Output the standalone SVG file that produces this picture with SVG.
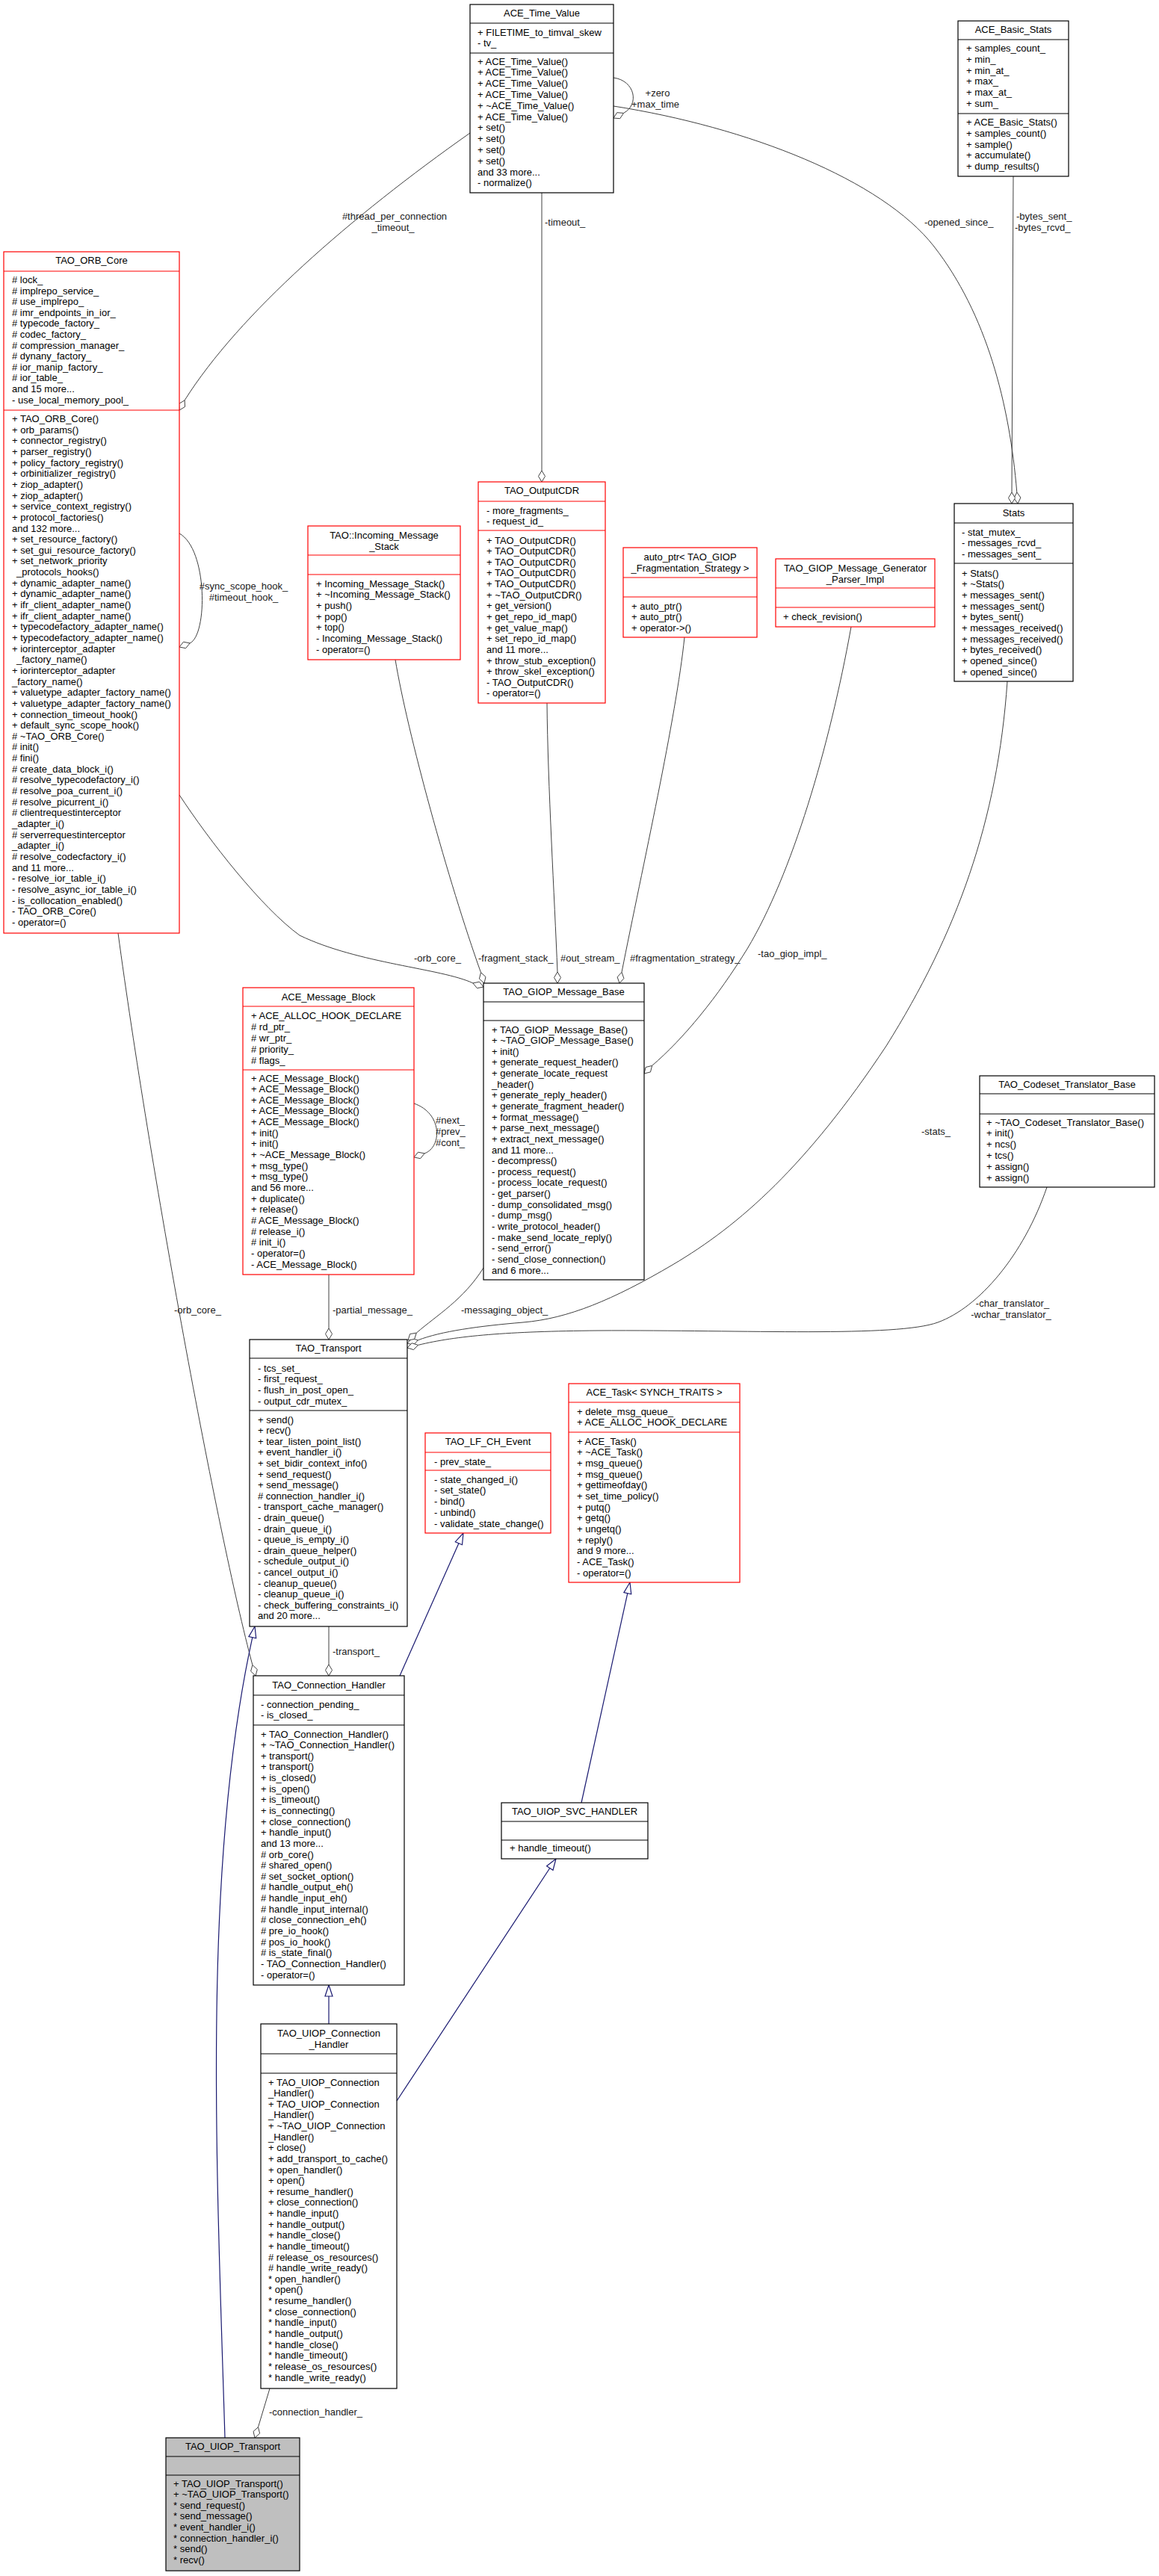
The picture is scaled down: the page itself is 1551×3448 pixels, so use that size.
<svg xmlns="http://www.w3.org/2000/svg" width="1551" height="3448" viewBox="0 0 1551 3448">
<style>
text{font-family:"Liberation Sans",Arial,Helvetica,sans-serif;font-size:13px;fill:#000}
.mid{text-anchor:middle}
.lbl{fill:#202020}
.box{fill:#fff;stroke:#000;stroke-width:1.2}
.red{fill:#fff;stroke:#ff0000;stroke-width:1.2}
.gry{fill:#bfbfbf;stroke:#000;stroke-width:1.2}
.dk{stroke:#000;stroke-width:1.2}
.rd{stroke:#ff0000;stroke-width:1.2}
.e{fill:none;stroke:#404040;stroke-width:1}
.dia{fill:#fff;stroke:#404040;stroke-width:1}
.inh{fill:none;stroke:#191970;stroke-width:1.2}
.tri{fill:#fff;stroke:#191970;stroke-width:1.2}
</style>
<rect width="1551" height="3448" fill="#fff"/>

<g id="connectors">
<!-- thread_per_connection_timeout_ -->
<path class="e" d="M629,178 C470,290 320,420 247.1,535.8"/>
<polygon class="dia" points="240,549 247.5,544.5 247.1,535.8 239.6,540.3"/>
<text class="lbl mid" x="528" y="293.5">#thread_per_connection</text>
<text class="lbl mid" x="526" y="308.5">_timeout_</text>
<!-- timeout_ -->
<path class="e" d="M725,258 L725,630"/>
<polygon class="dia" points="725,645 729.5,637.5 725,630 720.5,637.5"/>
<text class="lbl" x="729" y="301.5">-timeout_</text>
<!-- zero / max_time self loop -->
<path class="e" d="M821,104 C850,108 856,140 834.5,151.4"/>
<polygon class="dia" points="821,158 829.7,158.7 834.5,151.4 825.7,150.7"/>
<text class="lbl mid" x="880" y="128.5">+zero</text>
<text class="lbl mid" x="877" y="143.5">+max_time</text>
<!-- opened_since_ -->
<path class="e" d="M821,142 C1000,170 1180,240 1250,330 C1320,420 1351,540 1360.8,659"/>
<polygon class="dia" points="1362,674 1365.9,666.1 1360.8,659 1356.9,666.9"/>
<text class="lbl" x="1237" y="301.5">-opened_since_</text>
<!-- bytes_sent_ / bytes_rcvd_ -->
<path class="e" d="M1356,236 L1354,659"/>
<polygon class="dia" points="1354,674 1358.5,666.5 1354,659 1349.5,666.5"/>
<text class="lbl" x="1360" y="293.5">-bytes_sent_</text>
<text class="lbl" x="1358" y="308.5">-bytes_rcvd_</text>
<!-- sync_scope_hook_ self loop -->
<path class="e" d="M240,714 C278,735 278,850 254.1,860.9"/>
<polygon class="dia" points="240,866 248.6,867.7 254.1,860.9 245.5,859.2"/>
<text class="lbl mid" x="326" y="788.5">#sync_scope_hook_</text>
<text class="lbl mid" x="326" y="803.5">#timeout_hook_</text>
<!-- orb_core_ to GIOP -->
<path class="e" d="M240,1064 C280,1125 350,1215 401,1252 C480,1290 590,1296 632.9,1315.9"/>
<polygon class="dia" points="647,1321 641.5,1314.2 632.9,1315.9 638.4,1322.7"/>
<text class="lbl" x="554" y="1286.5">-orb_core_</text>
<!-- fragment_stack_ -->
<path class="e" d="M529,883 C545,980 600,1180 643.5,1301.7"/>
<polygon class="dia" points="648,1316 650,1307.5 643.5,1301.7 641.4,1310.2"/>
<text class="lbl" x="640" y="1286.5">-fragment_stack_</text>
<!-- out_stream_ -->
<path class="e" d="M732,941 C733,1050 742,1200 746,1301"/>
<polygon class="dia" points="746,1316 750.5,1308.5 746,1301 741.5,1308.5"/>
<text class="lbl" x="750" y="1286.5">#out_stream_</text>
<!-- fragmentation_strategy_ -->
<path class="e" d="M916,853 C905,960 860,1160 832,1301.3"/>
<polygon class="dia" points="829,1316 834.9,1309.6 832,1301.3 826.1,1307.8"/>
<text class="lbl" x="843" y="1286.5">#fragmentation_strategy_</text>
<!-- tao_giop_impl_ -->
<path class="e" d="M1139,839 C1110,1000 1060,1170 1000,1270 C960,1335 915,1390 872.6,1426.4"/>
<polygon class="dia" points="862,1437 870.5,1434.9 872.6,1426.4 864.1,1428.5"/>
<text class="lbl" x="1014" y="1280.5">-tao_giop_impl_</text>
<!-- stats_ -->
<path class="e" d="M1348,912 C1335,1100 1280,1250 1186,1400 C1080,1560 990,1640 900,1693 C820,1740 760,1765 700,1770 C640,1775 590,1782 559.4,1793.8"/>
<polygon class="dia" points="545,1798 553.5,1800.2 559.4,1793.8 550.9,1791.6"/>
<text class="lbl" x="1233" y="1518.5">-stats_</text>
<!-- char/wchar translator -->
<path class="e" d="M1401,1589 C1370,1680 1310,1750 1255,1770 C1200,1790 1000,1780 800,1781 C680,1782 610,1788 559.6,1800.4"/>
<polygon class="dia" points="545,1804 553.4,1806.6 559.6,1800.4 551.2,1797.8"/>
<text class="lbl mid" x="1355" y="1748.5">-char_translator_</text>
<text class="lbl mid" x="1353" y="1763.5">-wchar_translator_</text>
<!-- messaging_object_ -->
<path class="e" d="M647,1697 C620,1740 585,1760 557.3,1784.1"/>
<polygon class="dia" points="546,1794 554.6,1792.4 557.3,1784.1 548.6,1785.6"/>
<text class="lbl" x="617" y="1757.5">-messaging_object_</text>
<!-- partial_message_ -->
<path class="e" d="M440,1706 L440,1778"/>
<polygon class="dia" points="440,1793 444.5,1785.5 440,1778 435.5,1785.5"/>
<text class="lbl" x="445" y="1757.5">-partial_message_</text>
<!-- next/prev/cont self loop -->
<path class="e" d="M554,1477 C592,1490 592,1535 568.1,1543.9"/>
<polygon class="dia" points="554,1549 562.6,1550.7 568.1,1543.9 559.5,1542.2"/>
<text class="lbl" x="583" y="1503.5">#next_</text>
<text class="lbl" x="583" y="1518.5">#prev_</text>
<text class="lbl" x="583" y="1533.5">#cont_</text>
<!-- orb_core_ to Connection_Handler -->
<path class="e" d="M158,1249 C200,1560 290,2050 337.9,2228.6"/>
<polygon class="dia" points="342,2243 344.3,2234.6 337.9,2228.6 335.6,2237"/>
<text class="lbl" x="233" y="1757.5">-orb_core_</text>
<!-- transport_ -->
<path class="e" d="M440,2177 L440,2228"/>
<polygon class="dia" points="440,2243 444.5,2235.5 440,2228 435.5,2235.5"/>
<text class="lbl" x="445" y="2214.5">-transport_</text>
<!-- connection_handler_ -->
<path class="e" d="M361,3197 L345.5,3248.7"/>
<polygon class="dia" points="341,3263 347.6,3257.2 345.5,3248.7 339,3254.5"/>
<text class="lbl" x="360" y="3232.5">-connection_handler_</text>
<!-- inheritance -->
<path class="inh" d="M535,2243 L613.9,2065.7"/>
<polygon class="tri" points="620,2052 618.5,2067.7 609.3,2063.7"/>
<path class="inh" d="M301,3263 C290,2900 270,2500 337.8,2191.7"/>
<polygon class="tri" points="341,2177 342.7,2192.8 332.9,2190.6"/>
<path class="inh" d="M440,2709 L440,2672"/>
<polygon class="tri" points="440,2657 445,2672 435,2672"/>
<path class="inh" d="M778,2413 L839.8,2132.7"/>
<polygon class="tri" points="843,2118 844.7,2133.8 834.9,2131.6"/>
<path class="inh" d="M531,2812 L735.8,2500.5"/>
<polygon class="tri" points="744,2488 740,2503.2 731.6,2497.8"/>
</g>

<g id="ACE_Time_Value">
<rect class="box" x="629" y="6" width="192" height="252"/>
<line class="dk" x1="629" y1="31" x2="821" y2="31"/>
<line class="dk" x1="629" y1="71" x2="821" y2="71"/>
<text class="mid" x="725" y="22">ACE_Time_Value</text>
<text x="639" y="47.5"><tspan x="639">+ FILETIME_to_timval_skew</tspan><tspan x="639" dy="14.8">- tv_</tspan></text>
<text x="639" y="86.5"><tspan x="639">+ ACE_Time_Value()</tspan><tspan x="639" dy="14.8">+ ACE_Time_Value()</tspan><tspan x="639" dy="14.8">+ ACE_Time_Value()</tspan><tspan x="639" dy="14.8">+ ACE_Time_Value()</tspan><tspan x="639" dy="14.8">+ ~ACE_Time_Value()</tspan><tspan x="639" dy="14.8">+ ACE_Time_Value()</tspan><tspan x="639" dy="14.8">+ set()</tspan><tspan x="639" dy="14.8">+ set()</tspan><tspan x="639" dy="14.8">+ set()</tspan><tspan x="639" dy="14.8">+ set()</tspan><tspan x="639" dy="14.8">and 33 more...</tspan><tspan x="639" dy="14.8">- normalize()</tspan></text>
</g>

<g id="ACE_Basic_Stats">
<rect class="box" x="1282" y="28" width="148" height="208"/>
<line class="dk" x1="1282" y1="53" x2="1430" y2="53"/>
<line class="dk" x1="1282" y1="152" x2="1430" y2="152"/>
<text class="mid" x="1356" y="44">ACE_Basic_Stats</text>
<text x="1293" y="69"><tspan x="1293">+ samples_count_</tspan><tspan x="1293" dy="14.8">+ min_</tspan><tspan x="1293" dy="14.8">+ min_at_</tspan><tspan x="1293" dy="14.8">+ max_</tspan><tspan x="1293" dy="14.8">+ max_at_</tspan><tspan x="1293" dy="14.8">+ sum_</tspan></text>
<text x="1293" y="168"><tspan x="1293">+ ACE_Basic_Stats()</tspan><tspan x="1293" dy="14.75">+ samples_count()</tspan><tspan x="1293" dy="14.75">+ sample()</tspan><tspan x="1293" dy="14.75">+ accumulate()</tspan><tspan x="1293" dy="14.75">+ dump_results()</tspan></text>
</g>

<g id="TAO_ORB_Core">
<rect class="red" x="5" y="337" width="235" height="912"/>
<line class="rd" x1="5" y1="363" x2="240" y2="363"/>
<line class="rd" x1="5" y1="549" x2="240" y2="549"/>
<text class="mid" x="122.5" y="352.5">TAO_ORB_Core</text>
<text x="16" y="379"><tspan x="16"># lock_</tspan><tspan x="16" dy="14.6"># implrepo_service_</tspan><tspan x="16" dy="14.6"># use_implrepo_</tspan><tspan x="16" dy="14.6"># imr_endpoints_in_ior_</tspan><tspan x="16" dy="14.6"># typecode_factory_</tspan><tspan x="16" dy="14.6"># codec_factory_</tspan><tspan x="16" dy="14.6"># compression_manager_</tspan><tspan x="16" dy="14.6"># dynany_factory_</tspan><tspan x="16" dy="14.6"># ior_manip_factory_</tspan><tspan x="16" dy="14.6"># ior_table_</tspan><tspan x="16" dy="14.6">and 15 more...</tspan><tspan x="16" dy="14.6">- use_local_memory_pool_</tspan></text>
<text x="16" y="565"><tspan x="16">+ TAO_ORB_Core()</tspan><tspan x="16" dy="14.65">+ orb_params()</tspan><tspan x="16" dy="14.65">+ connector_registry()</tspan><tspan x="16" dy="14.65">+ parser_registry()</tspan><tspan x="16" dy="14.65">+ policy_factory_registry()</tspan><tspan x="16" dy="14.65">+ orbinitializer_registry()</tspan><tspan x="16" dy="14.65">+ ziop_adapter()</tspan><tspan x="16" dy="14.65">+ ziop_adapter()</tspan><tspan x="16" dy="14.65">+ service_context_registry()</tspan><tspan x="16" dy="14.65">+ protocol_factories()</tspan><tspan x="16" dy="14.65">and 132 more...</tspan><tspan x="16" dy="14.65">+ set_resource_factory()</tspan><tspan x="16" dy="14.65">+ set_gui_resource_factory()</tspan><tspan x="16" dy="14.65">+ set_network_priority</tspan><tspan x="22" dy="14.65">_protocols_hooks()</tspan><tspan x="16" dy="14.65">+ dynamic_adapter_name()</tspan><tspan x="16" dy="14.65">+ dynamic_adapter_name()</tspan><tspan x="16" dy="14.65">+ ifr_client_adapter_name()</tspan><tspan x="16" dy="14.65">+ ifr_client_adapter_name()</tspan><tspan x="16" dy="14.65">+ typecodefactory_adapter_name()</tspan><tspan x="16" dy="14.65">+ typecodefactory_adapter_name()</tspan><tspan x="16" dy="14.65">+ iorinterceptor_adapter</tspan><tspan x="22" dy="14.65">_factory_name()</tspan><tspan x="16" dy="14.65">+ iorinterceptor_adapter</tspan><tspan x="16" dy="14.65">_factory_name()</tspan><tspan x="16" dy="14.65">+ valuetype_adapter_factory_name()</tspan><tspan x="16" dy="14.65">+ valuetype_adapter_factory_name()</tspan><tspan x="16" dy="14.65">+ connection_timeout_hook()</tspan><tspan x="16" dy="14.65">+ default_sync_scope_hook()</tspan><tspan x="16" dy="14.65"># ~TAO_ORB_Core()</tspan><tspan x="16" dy="14.65"># init()</tspan><tspan x="16" dy="14.65"># fini()</tspan><tspan x="16" dy="14.65"># create_data_block_i()</tspan><tspan x="16" dy="14.65"># resolve_typecodefactory_i()</tspan><tspan x="16" dy="14.65"># resolve_poa_current_i()</tspan><tspan x="16" dy="14.65"># resolve_picurrent_i()</tspan><tspan x="16" dy="14.65"># clientrequestinterceptor</tspan><tspan x="16" dy="14.65">_adapter_i()</tspan><tspan x="16" dy="14.65"># serverrequestinterceptor</tspan><tspan x="16" dy="14.65">_adapter_i()</tspan><tspan x="16" dy="14.65"># resolve_codecfactory_i()</tspan><tspan x="16" dy="14.65">and 11 more...</tspan><tspan x="16" dy="14.65">- resolve_ior_table_i()</tspan><tspan x="16" dy="14.65">- resolve_async_ior_table_i()</tspan><tspan x="16" dy="14.65">- is_collocation_enabled()</tspan><tspan x="16" dy="14.65">- TAO_ORB_Core()</tspan><tspan x="16" dy="14.65">- operator=()</tspan></text>
</g>

<g id="TAO_Incoming_Message_Stack">
<rect class="red" x="412" y="704" width="204" height="179"/>
<line class="rd" x1="412" y1="743" x2="616" y2="743"/>
<line class="rd" x1="412" y1="769" x2="616" y2="769"/>
<text class="mid" x="514" y="720.5">TAO::Incoming_Message</text>
<text class="mid" x="514" y="735.5">_Stack</text>
<text x="423" y="785.5"><tspan x="423">+ Incoming_Message_Stack()</tspan><tspan x="423" dy="14.67">+ ~Incoming_Message_Stack()</tspan><tspan x="423" dy="14.67">+ push()</tspan><tspan x="423" dy="14.67">+ pop()</tspan><tspan x="423" dy="14.67">+ top()</tspan><tspan x="423" dy="14.67">- Incoming_Message_Stack()</tspan><tspan x="423" dy="14.67">- operator=()</tspan></text>
</g>

<g id="TAO_OutputCDR">
<rect class="red" x="640" y="645" width="170" height="296"/>
<line class="rd" x1="640" y1="671" x2="810" y2="671"/>
<line class="rd" x1="640" y1="710" x2="810" y2="710"/>
<text class="mid" x="725" y="661">TAO_OutputCDR</text>
<text x="651" y="687.5"><tspan x="651">- more_fragments_</tspan><tspan x="651" dy="14.5">- request_id_</tspan></text>
<text x="651" y="727.5"><tspan x="651">+ TAO_OutputCDR()</tspan><tspan x="651" dy="14.64">+ TAO_OutputCDR()</tspan><tspan x="651" dy="14.64">+ TAO_OutputCDR()</tspan><tspan x="651" dy="14.64">+ TAO_OutputCDR()</tspan><tspan x="651" dy="14.64">+ TAO_OutputCDR()</tspan><tspan x="651" dy="14.64">+ ~TAO_OutputCDR()</tspan><tspan x="651" dy="14.64">+ get_version()</tspan><tspan x="651" dy="14.64">+ get_repo_id_map()</tspan><tspan x="651" dy="14.64">+ get_value_map()</tspan><tspan x="651" dy="14.64">+ set_repo_id_map()</tspan><tspan x="651" dy="14.64">and 11 more...</tspan><tspan x="651" dy="14.64">+ throw_stub_exception()</tspan><tspan x="651" dy="14.64">+ throw_skel_exception()</tspan><tspan x="651" dy="14.64">- TAO_OutputCDR()</tspan><tspan x="651" dy="14.64">- operator=()</tspan></text>
</g>

<g id="auto_ptr_TAO_GIOP_Fragmentation_Strategy">
<rect class="red" x="834" y="733" width="179" height="120"/>
<line class="rd" x1="834" y1="773" x2="1013" y2="773"/>
<line class="rd" x1="834" y1="799" x2="1013" y2="799"/>
<text class="mid" x="923.5" y="749.5">auto_ptr&lt; TAO_GIOP</text>
<text class="mid" x="923.5" y="764.5">_Fragmentation_Strategy &gt;</text>
<text x="845" y="815.5"><tspan x="845">+ auto_ptr()</tspan><tspan x="845" dy="14.5">+ auto_ptr()</tspan><tspan x="845" dy="14.5">+ operator-&gt;()</tspan></text>
</g>

<g id="TAO_GIOP_Message_Generator_Parser_Impl">
<rect class="red" x="1038" y="748" width="213" height="91"/>
<line class="rd" x1="1038" y1="787" x2="1251" y2="787"/>
<line class="rd" x1="1038" y1="813" x2="1251" y2="813"/>
<text class="mid" x="1144.5" y="764.5">TAO_GIOP_Message_Generator</text>
<text class="mid" x="1144.5" y="779.5">_Parser_Impl</text>
<text x="1048" y="829.5">+ check_revision()</text>
</g>

<g id="Stats">
<rect class="box" x="1277" y="674" width="159" height="238"/>
<line class="dk" x1="1277" y1="700" x2="1436" y2="700"/>
<line class="dk" x1="1277" y1="754" x2="1436" y2="754"/>
<text class="mid" x="1356.5" y="690.5">Stats</text>
<text x="1287" y="716.5"><tspan x="1287">- stat_mutex_</tspan><tspan x="1287" dy="14.5">- messages_rcvd_</tspan><tspan x="1287" dy="14.5">- messages_sent_</tspan></text>
<text x="1287" y="771.5"><tspan x="1287">+ Stats()</tspan><tspan x="1287" dy="14.67">+ ~Stats()</tspan><tspan x="1287" dy="14.67">+ messages_sent()</tspan><tspan x="1287" dy="14.67">+ messages_sent()</tspan><tspan x="1287" dy="14.67">+ bytes_sent()</tspan><tspan x="1287" dy="14.67">+ messages_received()</tspan><tspan x="1287" dy="14.67">+ messages_received()</tspan><tspan x="1287" dy="14.67">+ bytes_received()</tspan><tspan x="1287" dy="14.67">+ opened_since()</tspan><tspan x="1287" dy="14.67">+ opened_since()</tspan></text>
</g>

<g id="ACE_Message_Block">
<rect class="red" x="325" y="1322" width="229" height="384"/>
<line class="rd" x1="325" y1="1347" x2="554" y2="1347"/>
<line class="rd" x1="325" y1="1432" x2="554" y2="1432"/>
<text class="mid" x="439.5" y="1338.5">ACE_Message_Block</text>
<text x="336" y="1363.5"><tspan x="336">+ ACE_ALLOC_HOOK_DECLARE</tspan><tspan x="336" dy="15"># rd_ptr_</tspan><tspan x="336" dy="15"># wr_ptr_</tspan><tspan x="336" dy="15"># priority_</tspan><tspan x="336" dy="15"># flags_</tspan></text>
<text x="336" y="1447.5"><tspan x="336">+ ACE_Message_Block()</tspan><tspan x="336" dy="14.65">+ ACE_Message_Block()</tspan><tspan x="336" dy="14.65">+ ACE_Message_Block()</tspan><tspan x="336" dy="14.65">+ ACE_Message_Block()</tspan><tspan x="336" dy="14.65">+ ACE_Message_Block()</tspan><tspan x="336" dy="14.65">+ init()</tspan><tspan x="336" dy="14.65">+ init()</tspan><tspan x="336" dy="14.65">+ ~ACE_Message_Block()</tspan><tspan x="336" dy="14.65">+ msg_type()</tspan><tspan x="336" dy="14.65">+ msg_type()</tspan><tspan x="336" dy="14.65">and 56 more...</tspan><tspan x="336" dy="14.65">+ duplicate()</tspan><tspan x="336" dy="14.65">+ release()</tspan><tspan x="336" dy="14.65"># ACE_Message_Block()</tspan><tspan x="336" dy="14.65"># release_i()</tspan><tspan x="336" dy="14.65"># init_i()</tspan><tspan x="336" dy="14.65">- operator=()</tspan><tspan x="336" dy="14.65">- ACE_Message_Block()</tspan></text>
</g>

<g id="TAO_GIOP_Message_Base">
<rect class="box" x="647" y="1316" width="215" height="397"/>
<line class="dk" x1="647" y1="1341" x2="862" y2="1341"/>
<line class="dk" x1="647" y1="1366" x2="862" y2="1366"/>
<text class="mid" x="754.5" y="1331.5">TAO_GIOP_Message_Base</text>
<text x="658" y="1382.5"><tspan x="658">+ TAO_GIOP_Message_Base()</tspan><tspan x="658" dy="14.64">+ ~TAO_GIOP_Message_Base()</tspan><tspan x="658" dy="14.64">+ init()</tspan><tspan x="658" dy="14.64">+ generate_request_header()</tspan><tspan x="658" dy="14.64">+ generate_locate_request</tspan><tspan x="658" dy="14.64">_header()</tspan><tspan x="658" dy="14.64">+ generate_reply_header()</tspan><tspan x="658" dy="14.64">+ generate_fragment_header()</tspan><tspan x="658" dy="14.64">+ format_message()</tspan><tspan x="658" dy="14.64">+ parse_next_message()</tspan><tspan x="658" dy="14.64">+ extract_next_message()</tspan><tspan x="658" dy="14.64">and 11 more...</tspan><tspan x="658" dy="14.64">- decompress()</tspan><tspan x="658" dy="14.64">- process_request()</tspan><tspan x="658" dy="14.64">- process_locate_request()</tspan><tspan x="658" dy="14.64">- get_parser()</tspan><tspan x="658" dy="14.64">- dump_consolidated_msg()</tspan><tspan x="658" dy="14.64">- dump_msg()</tspan><tspan x="658" dy="14.64">- write_protocol_header()</tspan><tspan x="658" dy="14.64">- make_send_locate_reply()</tspan><tspan x="658" dy="14.64">- send_error()</tspan><tspan x="658" dy="14.64">- send_close_connection()</tspan><tspan x="658" dy="14.64">and 6 more...</tspan></text>
</g>

<g id="TAO_Codeset_Translator_Base">
<rect class="box" x="1311" y="1440" width="234" height="149"/>
<line class="dk" x1="1311" y1="1464" x2="1545" y2="1464"/>
<line class="dk" x1="1311" y1="1491" x2="1545" y2="1491"/>
<text class="mid" x="1428" y="1455.5">TAO_Codeset_Translator_Base</text>
<text x="1320" y="1506.5"><tspan x="1320">+ ~TAO_Codeset_Translator_Base()</tspan><tspan x="1320" dy="14.8">+ init()</tspan><tspan x="1320" dy="14.8">+ ncs()</tspan><tspan x="1320" dy="14.8">+ tcs()</tspan><tspan x="1320" dy="14.8">+ assign()</tspan><tspan x="1320" dy="14.8">+ assign()</tspan></text>
</g>

<g id="TAO_Transport">
<rect class="box" x="334" y="1793" width="211" height="384"/>
<line class="dk" x1="334" y1="1818" x2="545" y2="1818"/>
<line class="dk" x1="334" y1="1888" x2="545" y2="1888"/>
<text class="mid" x="439.5" y="1808.5">TAO_Transport</text>
<text x="345" y="1835.5"><tspan x="345">- tcs_set_</tspan><tspan x="345" dy="14.67">- first_request_</tspan><tspan x="345" dy="14.67">- flush_in_post_open_</tspan><tspan x="345" dy="14.67">- output_cdr_mutex_</tspan></text>
<text x="345" y="1904.5"><tspan x="345">+ send()</tspan><tspan x="345" dy="14.61">+ recv()</tspan><tspan x="345" dy="14.61">+ tear_listen_point_list()</tspan><tspan x="345" dy="14.61">+ event_handler_i()</tspan><tspan x="345" dy="14.61">+ set_bidir_context_info()</tspan><tspan x="345" dy="14.61">+ send_request()</tspan><tspan x="345" dy="14.61">+ send_message()</tspan><tspan x="345" dy="14.61"># connection_handler_i()</tspan><tspan x="345" dy="14.61">- transport_cache_manager()</tspan><tspan x="345" dy="14.61">- drain_queue()</tspan><tspan x="345" dy="14.61">- drain_queue_i()</tspan><tspan x="345" dy="14.61">- queue_is_empty_i()</tspan><tspan x="345" dy="14.61">- drain_queue_helper()</tspan><tspan x="345" dy="14.61">- schedule_output_i()</tspan><tspan x="345" dy="14.61">- cancel_output_i()</tspan><tspan x="345" dy="14.61">- cleanup_queue()</tspan><tspan x="345" dy="14.61">- cleanup_queue_i()</tspan><tspan x="345" dy="14.61">- check_buffering_constraints_i()</tspan><tspan x="345" dy="14.61">and 20 more...</tspan></text>
</g>

<g id="TAO_LF_CH_Event">
<rect class="red" x="569" y="1918" width="168" height="134"/>
<line class="rd" x1="569" y1="1944" x2="737" y2="1944"/>
<line class="rd" x1="569" y1="1968" x2="737" y2="1968"/>
<text class="mid" x="653" y="1933.5">TAO_LF_CH_Event</text>
<text x="581" y="1960.5">- prev_state_</text>
<text x="581" y="1984.5"><tspan x="581">- state_changed_i()</tspan><tspan x="581" dy="14.75">- set_state()</tspan><tspan x="581" dy="14.75">- bind()</tspan><tspan x="581" dy="14.75">- unbind()</tspan><tspan x="581" dy="14.75">- validate_state_change()</tspan></text>
</g>

<g id="ACE_Task_SYNCH_TRAITS">
<rect class="red" x="761" y="1852" width="229" height="266"/>
<line class="rd" x1="761" y1="1877" x2="990" y2="1877"/>
<line class="rd" x1="761" y1="1917" x2="990" y2="1917"/>
<text class="mid" x="875.5" y="1867.5">ACE_Task&lt; SYNCH_TRAITS &gt;</text>
<text x="772" y="1893.5"><tspan x="772">+ delete_msg_queue_</tspan><tspan x="772" dy="14.5">+ ACE_ALLOC_HOOK_DECLARE</tspan></text>
<text x="772" y="1933.5"><tspan x="772">+ ACE_Task()</tspan><tspan x="772" dy="14.67">+ ~ACE_Task()</tspan><tspan x="772" dy="14.67">+ msg_queue()</tspan><tspan x="772" dy="14.67">+ msg_queue()</tspan><tspan x="772" dy="14.67">+ gettimeofday()</tspan><tspan x="772" dy="14.67">+ set_time_policy()</tspan><tspan x="772" dy="14.67">+ putq()</tspan><tspan x="772" dy="14.67">+ getq()</tspan><tspan x="772" dy="14.67">+ ungetq()</tspan><tspan x="772" dy="14.67">+ reply()</tspan><tspan x="772" dy="14.67">and 9 more...</tspan><tspan x="772" dy="14.67">- ACE_Task()</tspan><tspan x="772" dy="14.67">- operator=()</tspan></text>
</g>

<g id="TAO_Connection_Handler">
<rect class="box" x="339" y="2243" width="202" height="414"/>
<line class="dk" x1="339" y1="2269" x2="541" y2="2269"/>
<line class="dk" x1="339" y1="2309" x2="541" y2="2309"/>
<text class="mid" x="440" y="2259.5">TAO_Connection_Handler</text>
<text x="349" y="2285.5"><tspan x="349">- connection_pending_</tspan><tspan x="349" dy="14.6">- is_closed_</tspan></text>
<text x="349" y="2325.5"><tspan x="349">+ TAO_Connection_Handler()</tspan><tspan x="349" dy="14.64">+ ~TAO_Connection_Handler()</tspan><tspan x="349" dy="14.64">+ transport()</tspan><tspan x="349" dy="14.64">+ transport()</tspan><tspan x="349" dy="14.64">+ is_closed()</tspan><tspan x="349" dy="14.64">+ is_open()</tspan><tspan x="349" dy="14.64">+ is_timeout()</tspan><tspan x="349" dy="14.64">+ is_connecting()</tspan><tspan x="349" dy="14.64">+ close_connection()</tspan><tspan x="349" dy="14.64">+ handle_input()</tspan><tspan x="349" dy="14.64">and 13 more...</tspan><tspan x="349" dy="14.64"># orb_core()</tspan><tspan x="349" dy="14.64"># shared_open()</tspan><tspan x="349" dy="14.64"># set_socket_option()</tspan><tspan x="349" dy="14.64"># handle_output_eh()</tspan><tspan x="349" dy="14.64"># handle_input_eh()</tspan><tspan x="349" dy="14.64"># handle_input_internal()</tspan><tspan x="349" dy="14.64"># close_connection_eh()</tspan><tspan x="349" dy="14.64"># pre_io_hook()</tspan><tspan x="349" dy="14.64"># pos_io_hook()</tspan><tspan x="349" dy="14.64"># is_state_final()</tspan><tspan x="349" dy="14.64">- TAO_Connection_Handler()</tspan><tspan x="349" dy="14.64">- operator=()</tspan></text>
</g>

<g id="TAO_UIOP_SVC_HANDLER">
<rect class="box" x="671" y="2413" width="196" height="75"/>
<line class="dk" x1="671" y1="2438" x2="867" y2="2438"/>
<line class="dk" x1="671" y1="2463" x2="867" y2="2463"/>
<text class="mid" x="769" y="2428.5">TAO_UIOP_SVC_HANDLER</text>
<text x="682" y="2477.5">+ handle_timeout()</text>
</g>

<g id="TAO_UIOP_Connection_Handler">
<rect class="box" x="349" y="2709" width="182" height="488"/>
<line class="dk" x1="349" y1="2749" x2="531" y2="2749"/>
<line class="dk" x1="349" y1="2775" x2="531" y2="2775"/>
<text class="mid" x="440" y="2725.5">TAO_UIOP_Connection</text>
<text class="mid" x="440" y="2740.5">_Handler</text>
<text x="359" y="2791.5"><tspan x="359">+ TAO_UIOP_Connection</tspan><tspan x="359" dy="14.63">_Handler()</tspan><tspan x="359" dy="14.63">+ TAO_UIOP_Connection</tspan><tspan x="359" dy="14.63">_Handler()</tspan><tspan x="359" dy="14.63">+ ~TAO_UIOP_Connection</tspan><tspan x="359" dy="14.63">_Handler()</tspan><tspan x="359" dy="14.63">+ close()</tspan><tspan x="359" dy="14.63">+ add_transport_to_cache()</tspan><tspan x="359" dy="14.63">+ open_handler()</tspan><tspan x="359" dy="14.63">+ open()</tspan><tspan x="359" dy="14.63">+ resume_handler()</tspan><tspan x="359" dy="14.63">+ close_connection()</tspan><tspan x="359" dy="14.63">+ handle_input()</tspan><tspan x="359" dy="14.63">+ handle_output()</tspan><tspan x="359" dy="14.63">+ handle_close()</tspan><tspan x="359" dy="14.63">+ handle_timeout()</tspan><tspan x="359" dy="14.63"># release_os_resources()</tspan><tspan x="359" dy="14.63"># handle_write_ready()</tspan><tspan x="359" dy="14.63">* open_handler()</tspan><tspan x="359" dy="14.63">* open()</tspan><tspan x="359" dy="14.63">* resume_handler()</tspan><tspan x="359" dy="14.63">* close_connection()</tspan><tspan x="359" dy="14.63">* handle_input()</tspan><tspan x="359" dy="14.63">* handle_output()</tspan><tspan x="359" dy="14.63">* handle_close()</tspan><tspan x="359" dy="14.63">* handle_timeout()</tspan><tspan x="359" dy="14.63">* release_os_resources()</tspan><tspan x="359" dy="14.63">* handle_write_ready()</tspan></text>
</g>

<g id="TAO_UIOP_Transport">
<rect class="gry" x="222" y="3263" width="179" height="178"/>
<line class="dk" x1="222" y1="3288" x2="401" y2="3288"/>
<line class="dk" x1="222" y1="3313" x2="401" y2="3313"/>
<text class="mid" x="311.5" y="3278.5">TAO_UIOP_Transport</text>
<text x="232" y="3328.5"><tspan x="232">+ TAO_UIOP_Transport()</tspan><tspan x="232" dy="14.6">+ ~TAO_UIOP_Transport()</tspan><tspan x="232" dy="14.6">* send_request()</tspan><tspan x="232" dy="14.6">* send_message()</tspan><tspan x="232" dy="14.6">* event_handler_i()</tspan><tspan x="232" dy="14.6">* connection_handler_i()</tspan><tspan x="232" dy="14.6">* send()</tspan><tspan x="232" dy="14.6">* recv()</tspan></text>
</g>
</svg>
